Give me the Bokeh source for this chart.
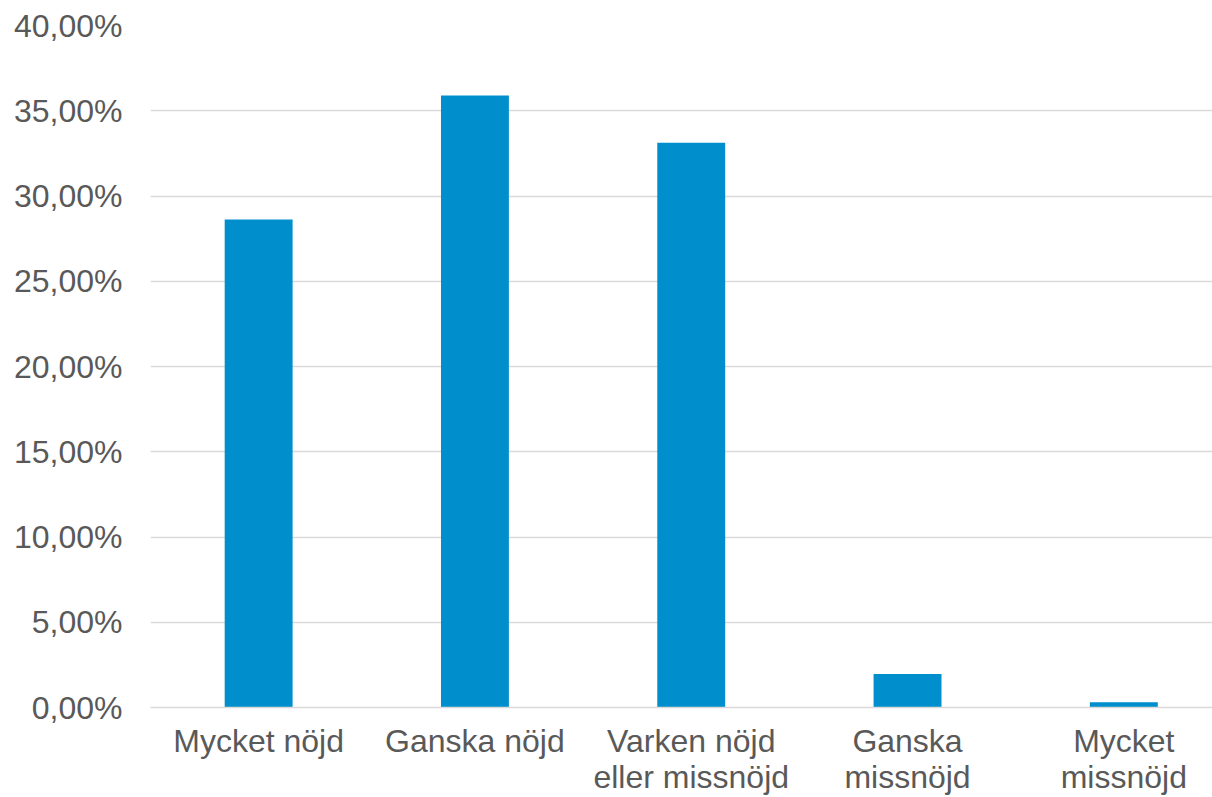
from bokeh.plotting import figure
from bokeh.models import FixedTicker, CustomJSTickFormatter, Range1d, ColumnDataSource
from bokeh.embed import file_html
from bokeh.resources import INLINE

categories = ["Mycket nöjd", "Ganska nöjd", "Varken nöjd\neller missnöjd", "Ganska\nmissnöjd", "Mycket\nmissnöjd"]
values = [28.62, 35.90, 33.12, 1.97, 0.31]
y_ticks = [0, 5, 10, 15, 20, 25, 30, 35, 40]

FONT = "Liberation Sans"
TXT = "#595959"
GRID = "#d9d9d9"

xpos = [i + 0.5 for i in range(len(categories))]
src = ColumnDataSource(dict(x=xpos, cat=categories, val=values))

p = figure(x_range=Range1d(0, 4.91), y_range=Range1d(0, 40), width=1212, height=797,
           output_backend="svg", toolbar_location=None,
           min_border_left=150, min_border_right=0, min_border_top=25, min_border_bottom=89)
p.outline_line_color = None

p.vbar(x="x", top="val", width=0.314, source=src, color="#008FCC", line_color=None)

p.xgrid.grid_line_color = None
p.ygrid.grid_line_color = GRID
p.ygrid.grid_line_width = 1.5

p.yaxis.ticker = FixedTicker(ticks=y_ticks)
p.yaxis.formatter = CustomJSTickFormatter(code="return tick.toFixed(2).replace('.', ',') + '%';")
p.yaxis.axis_line_color = None
p.yaxis.major_tick_line_color = None
p.yaxis.minor_tick_line_color = None
p.yaxis.major_tick_out = 0
p.yaxis.major_label_standoff = 28
p.yaxis.major_label_text_font = FONT
p.yaxis.major_label_text_font_size = "32px"
p.yaxis.major_label_text_color = TXT

p.xaxis.ticker = FixedTicker(ticks=xpos)
p.xaxis.formatter = CustomJSTickFormatter(args=dict(labels=categories),
                                          code="return labels[Math.floor(tick)];")
p.xaxis.axis_line_color = GRID
p.xaxis.axis_line_width = 1.5
p.xaxis.major_tick_line_color = None
p.xaxis.minor_tick_line_color = None
p.xaxis.major_tick_out = 0
p.xaxis.major_tick_in = 0
p.xaxis.minor_tick_out = 0
p.xaxis.major_label_standoff = 15
p.xaxis.major_label_text_font = FONT
p.xaxis.major_label_text_font_size = "32px"
p.xaxis.major_label_text_color = TXT
p.xaxis.major_label_text_line_height = 1.0

open("out.html", "w").write(file_html(p, INLINE))
